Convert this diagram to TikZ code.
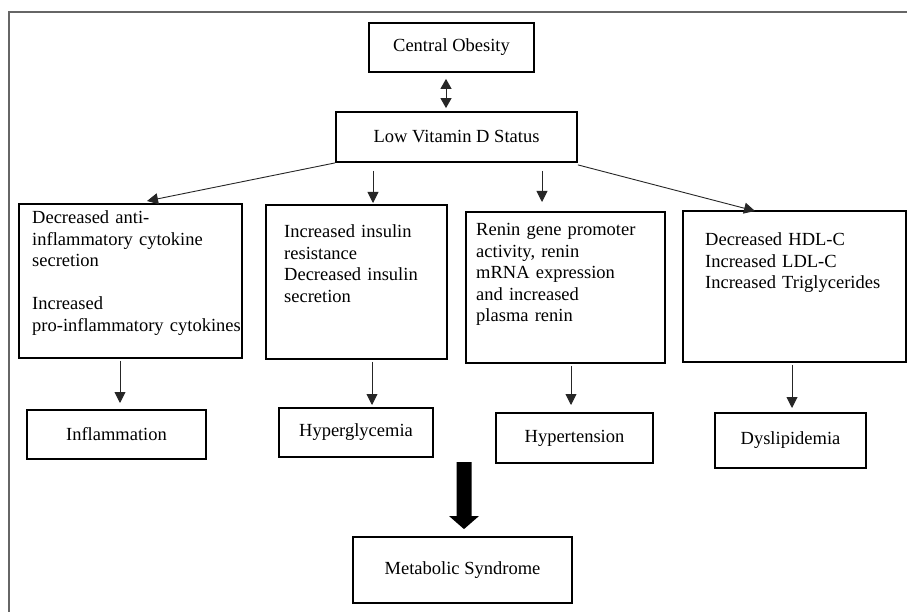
\documentclass[tikz,border=0pt]{standalone}
\usepackage{fontspec}
\setmainfont{Liberation Serif}
\usetikzlibrary{arrows.meta,calc}
\tikzset{
  box/.style={draw=black, line width=1.8pt, inner sep=0pt, align=center},
  txt/.style={inner sep=0pt, anchor=base west, align=left, text width=230pt},
  arr/.style={draw=black!85, line width=0.9pt, -{Triangle[width=11pt,length=11pt]}},
  dbl/.style={draw=black!85, line width=0.9pt, {Triangle[width=11pt,length=10pt]}-{Triangle[width=11pt,length=10pt]}},
  frame/.style={draw=black!60, line width=1.6pt},
  every node/.style={font=\fontsize{18.5}{21.5}\selectfont}
}
\begin{document}
\begin{tikzpicture}[x=1pt,y=-1pt]
\useasboundingbox (0,0) rectangle (907,612);
\fill[white] (0,0) rectangle (907,612);
% outer frame
\draw[frame] (9,612) -- (9,12) -- (907,12);

% boxes
\node[box, minimum width=165pt, minimum height=49pt] (co) at (451.5,47.5) {Central Obesity};
\node[box, minimum width=241pt, minimum height=50pt] (lvd) at (456.5,137) {Low Vitamin D Status};

\node[box, minimum width=223pt, minimum height=154pt] (b1) at (130.5,281) {};
\node[box, minimum width=181pt, minimum height=154pt] (b2) at (356.5,282) {};
\node[box, minimum width=199pt, minimum height=151pt] (b3) at (565.5,287.5) {};
\node[box, minimum width=223pt, minimum height=151pt] (b4) at (794.5,286.5) {};

\node[txt] (t1) at (32,224) {Decreased anti-\\inflammatory cytokine\\secretion\\[21.5pt]Increased\\pro-inflammatory cytokines};
\node[txt] (t2) at (284,238) {Increased insulin\\resistance\\Decreased insulin\\secretion};
\node[txt] (t3) at (476,236) {Renin gene promoter\\activity, renin\\mRNA expression\\and increased\\plasma renin};
\node[txt] (t4) at (705,246) {Decreased HDL-C\\Increased LDL-C\\Increased Triglycerides};

\node[box, minimum width=179pt, minimum height=49pt] (infl) at (116.5,434.5) {Inflammation};
\node[box, minimum width=154pt, minimum height=49pt] (hyg) at (356,432.5) {Hyperglycemia};
\node[box, minimum width=157pt, minimum height=50pt] (hyt) at (574.5,438) {Hypertension};
\node[box, minimum width=151pt, minimum height=55pt] (dys) at (790.5,440.5) {Dyslipidemia};

\node[box, minimum width=219pt, minimum height=66pt] (ms) at (462.5,570) {Metabolic Syndrome};

% arrow end points
\coordinate (c1) at (147,201);
\coordinate (c2) at (373,203);
\coordinate (c3) at (542,202);
\coordinate (c4) at (755,211);
\coordinate (c5) at (120,403);
\coordinate (c6) at (372,405);
\coordinate (c7) at (571,405);
\coordinate (c8) at (792,408);
\coordinate (ta) at (464,462);

% connectors
\draw[dbl, shorten <=6pt, shorten >=3pt] ([xshift=-5.5pt]co.south) -- ([xshift=-10.5pt]lvd.north);
\draw[arr] (lvd.south west) -- (c1);
\draw[arr, shorten <=8pt] (lvd.south -| c2) -- (c2);
\draw[arr, shorten <=8pt] (lvd.south -| c3) -- (c3);
\draw[arr] ([yshift=-2pt]lvd.south east) -- (c4);
\draw[arr, shorten <=2pt] (b1.south -| c5) -- (c5);
\draw[arr, shorten <=2pt] (b2.south -| c6) -- (c6);
\draw[arr, shorten <=2pt] (b3.south -| c7) -- (c7);
\draw[arr, shorten <=2pt] (b4.south -| c8) -- (c8);

% thick arrow to Metabolic Syndrome
\fill[black] ($(ta)+(-7.5,0)$) -- ($(ta)+(7.5,0)$) -- ($(ta)+(7.5,54)$) -- ($(ta)+(15,54)$)
  -- ($(ms.north -| ta)+(0,-7)$) -- ($(ta)+(-15,54)$) -- ($(ta)+(-7.5,54)$) -- cycle;
\end{tikzpicture}
\end{document}
